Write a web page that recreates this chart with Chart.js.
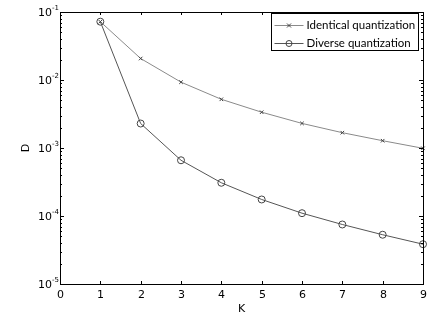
<!DOCTYPE html>
<html>
<head>
<meta charset="utf-8">
<script src="https://cdn.jsdelivr.net/npm/chart.js@4"></script>
<style>
  html, body { margin: 0; padding: 0; background: #fff; }
  #wrap { width: 443px; height: 323px; }
</style>
</head>
<body>
<div id="wrap"><canvas id="chart" width="443" height="323"></canvas></div>
<script>
// values
const kValues = [1, 2, 3, 4, 5, 6, 7, 8, 9];
const identicalD = [0.072, 0.0207, 0.0093, 0.0052, 0.00336, 0.0023, 0.00168, 0.00128, 0.00099];
const diverseD = [0.072, 0.00229, 0.00066, 0.000308, 0.000175, 0.00011, 0.000075, 0.000053, 0.0000385];
const xTickLabels = ['0', '1', '2', '3', '4', '5', '6', '7', '8', '9'];
const yDecades = [-1, -2, -3, -4, -5];
const seriesNames = ['Identical quantization', 'Diverse quantization'];

const labelFont = '11px "DejaVu Sans", sans-serif';
const supFont = '7px "DejaVu Sans", sans-serif';
const legendFont = '11.5px Lato, "Open Sans", sans-serif';

// axes box, inward ticks, tick labels and legend
const axesPlugin = {
    id: 'axesBox',
    afterDraw(chart) {
        const ctx = chart.ctx;
        const a = chart.chartArea;
        const xs = chart.scales.x;
        const ys = chart.scales.y;
        ctx.save();
        ctx.strokeStyle = '#000';
        ctx.lineWidth = 1;
        ctx.strokeRect(Math.round(a.left) + 0.5, Math.round(a.top) + 0.5,
            Math.round(a.right - a.left), Math.round(a.bottom - a.top));

        // x ticks + labels
        ctx.fillStyle = '#000';
        ctx.font = labelFont;
        ctx.textAlign = 'center';
        ctx.textBaseline = 'middle';
        xTickLabels.forEach((lab, i) => {
            const px = Math.round(xs.getPixelForValue(i)) + 0.5;
            ctx.beginPath();
            ctx.moveTo(px, a.bottom); ctx.lineTo(px, a.bottom - 3);
            ctx.moveTo(px, a.top); ctx.lineTo(px, a.top + 3);
            ctx.stroke();
            ctx.fillText(lab, px, a.bottom + 11);
        });
        ctx.fillText('K', (a.left + a.right) / 2, a.bottom + 25);

        // y ticks (log, with minor ticks)
        yDecades.forEach(e => {
            for (let m = 1; m <= 9; m++) {
                if (e === -1 && m > 1) break;
                const v = m * Math.pow(10, e);
                const py = Math.round(ys.getPixelForValue(v)) + 0.5;
                const len = m === 1 ? 4 : 2;
                ctx.beginPath();
                ctx.moveTo(a.left, py); ctx.lineTo(a.left + len, py);
                ctx.moveTo(a.right, py); ctx.lineTo(a.right - len, py);
                ctx.stroke();
            }
            const py = ys.getPixelForValue(Math.pow(10, e));
            ctx.font = labelFont;
            ctx.textAlign = 'right';
            ctx.textBaseline = 'middle';
            ctx.fillText('10', a.left - 8, py + 1);
            ctx.font = supFont;
            ctx.textAlign = 'left';
            ctx.fillText(String(e), a.left - 8, py - 4);
        });

        // y title
        ctx.save();
        ctx.translate(a.left - 34, (a.top + a.bottom) / 2);
        ctx.rotate(-Math.PI / 2);
        ctx.font = labelFont;
        ctx.textAlign = 'center';
        ctx.textBaseline = 'middle';
        ctx.fillText('D', 0, 0);
        ctx.restore();

        // legend
        const lx = 271.5, ly = 13.5, lw = 147, lh = 37;
        ctx.fillStyle = '#fff';
        ctx.fillRect(lx, ly, lw, lh);
        ctx.strokeStyle = '#000';
        ctx.strokeRect(lx, ly, lw, lh);
        chart.data.datasets.forEach((ds, i) => {
            const y = Math.round(ly + 11.5 + i * 17.5) + 0.5;
            ctx.strokeStyle = ds.borderColor;
            ctx.beginPath();
            ctx.moveTo(lx + 3, y); ctx.lineTo(lx + 32, y);
            ctx.stroke();
            const cx = lx + 17.5;
            ctx.strokeStyle = '#444';
            if (ds.pointStyle === 'crossRot') {
                ctx.beginPath();
                ctx.moveTo(cx - 2, y - 2); ctx.lineTo(cx + 2, y + 2);
                ctx.moveTo(cx - 2, y + 2); ctx.lineTo(cx + 2, y - 2);
                ctx.stroke();
            } else {
                ctx.beginPath();
                ctx.arc(cx, y, 3, 0, Math.PI * 2);
                ctx.stroke();
            }
            ctx.fillStyle = '#000';
            ctx.font = legendFont;
            ctx.textAlign = 'left';
            ctx.textBaseline = 'middle';
            ctx.fillText(ds.label, lx + 35, y);
        });
        ctx.restore();
    }
};

new Chart(document.getElementById('chart'), {
    type: 'line',
    data: {
        datasets: [{
            label: seriesNames[0],
            data: kValues.map((k, i) => ({ x: k, y: identicalD[i] })),
            borderColor: '#8a8a8a',
            borderWidth: 1,
            pointStyle: 'crossRot',
            pointRadius: 2.5,
            pointBorderColor: '#444',
            pointBorderWidth: 1,
            fill: false,
            tension: 0,
            clip: false
        }, {
            label: seriesNames[1],
            data: kValues.map((k, i) => ({ x: k, y: diverseD[i] })),
            borderColor: '#555',
            borderWidth: 1,
            pointStyle: 'circle',
            pointRadius: 3.5,
            pointBackgroundColor: 'rgba(0,0,0,0)',
            pointBorderColor: '#444',
            pointBorderWidth: 1,
            fill: false,
            tension: 0,
            clip: false
        }]
    },
    options: {
        responsive: false,
        animation: false,
        events: [],
        layout: { padding: { left: 52, right: 20, top: 12, bottom: 31 } },
        scales: {
            x: {
                type: 'linear', min: 0, max: 9,
                ticks: { display: false },
                grid: { display: false },
                border: { display: false }
            },
            y: {
                type: 'logarithmic', min: 1e-5, max: 1e-1,
                ticks: { display: false },
                grid: { display: false },
                border: { display: false }
            }
        },
        plugins: {
            legend: { display: false },
            tooltip: { enabled: false }
        }
    },
    plugins: [axesPlugin]
});
</script>
</body>
</html>
